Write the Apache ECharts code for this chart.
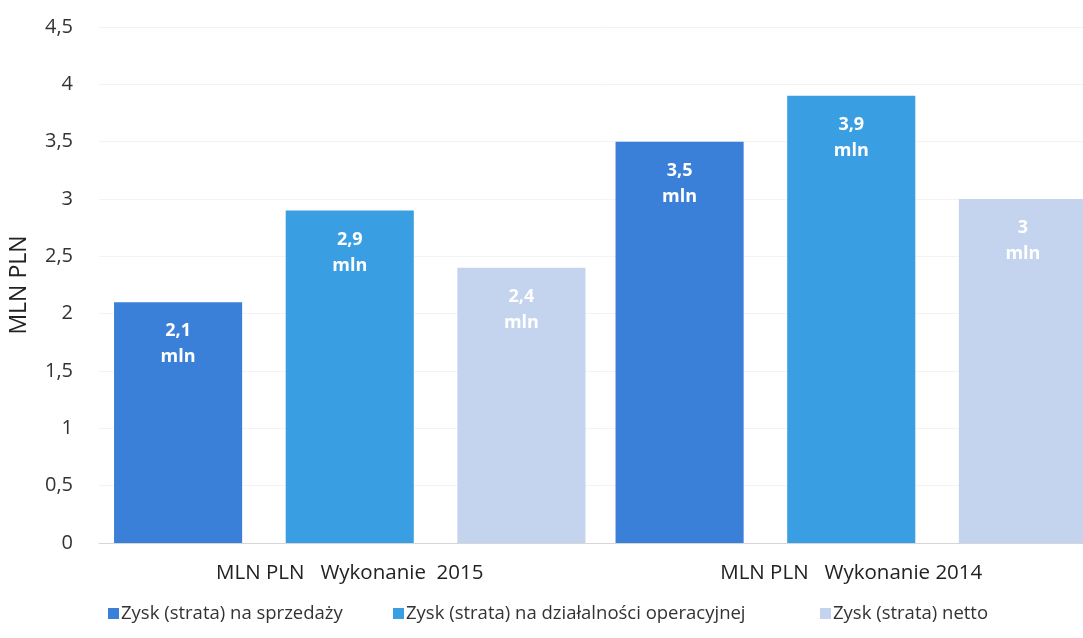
<!DOCTYPE html>
<html>
<head>
<meta charset="utf-8">
<script src="https://cdn.jsdelivr.net/npm/echarts@6/dist/echarts.min.js"></script>
<style>
  html, body { margin: 0; padding: 0; background: #fff; overflow: hidden; }
  /* szerszy niz okno: ostatni slupek w oryginale jest uciety */
  #chart { width: 1120px; height: 638px; }
</style>
</head>
<body>
<div id="chart"></div>
<script>
// dane z wykresu
var categories = ['MLN PLN   Wykonanie  2015', 'MLN PLN   Wykonanie 2014'];
var seriesNames = ['Zysk (strata) na sprzedaży', 'Zysk (strata) na działalności operacyjnej', 'Zysk (strata) netto'];
var sprzedaz = [2.1, 3.5];
var operacyjna = [2.9, 3.9];
var netto = [2.4, 3];
var colors = ['#3a7fd8', '#3a9fe2', '#c4d4ef'];

function fmt(v) {
  return String(v).replace('.', ',');
}

var chart = echarts.init(document.getElementById('chart'));

var label = {
  show: true,
  position: 'insideTop',
  distance: 16,
  color: '#fff',
  fontFamily: 'Open Sans',
  fontWeight: 'bold',
  fontSize: 18,
  lineHeight: 26,
  formatter: function (p) { return fmt(p.value) + '\nmln'; }
};

// legenda rozbita na trzy, bo odstepy w oryginale sa nierowne
var legendLeft = [103, 388, 815];
var legends = seriesNames.map(function (n, i) {
  return {
    bottom: 10,
    left: legendLeft[i],
    itemWidth: 11,
    itemHeight: 11,
    icon: 'rect',
    textStyle: { fontFamily: 'Open Sans', fontSize: 18.5, color: '#333', padding: [0, 0, 0, -3] },
    data: [n]
  };
});

var option = {
  animation: false,
  textStyle: { fontFamily: 'Open Sans' },
  grid: { left: 98, right: 18, top: 27, bottom: 95, containLabel: false },
  legend: legends,
  xAxis: {
    type: 'category',
    data: categories,
    axisTick: { show: false },
    axisLine: { lineStyle: { color: '#d6d6d6', width: 1 } },
    axisLabel: { color: '#222', fontSize: 20.5, margin: 20 }
  },
  yAxis: {
    type: 'value',
    min: 0,
    max: 4.5,
    interval: 0.5,
    name: 'MLN PLN',
    nameLocation: 'middle',
    nameGap: 68,
    nameRotate: 90,
    nameTextStyle: { color: '#222', fontSize: 23 },
    axisLine: { show: false },
    axisTick: { show: false },
    axisLabel: { color: '#333', fontSize: 20, margin: 26, formatter: function (v) { return fmt(v); } },
    splitLine: { lineStyle: { color: '#f3f3f3', width: 1 } }
  },
  series: [
    { name: seriesNames[0], type: 'bar', data: sprzedaz, itemStyle: { color: colors[0] }, label: label, barGap: '34%', barCategoryGap: '6%' },
    { name: seriesNames[1], type: 'bar', data: operacyjna, itemStyle: { color: colors[1] }, label: label },
    { name: seriesNames[2], type: 'bar', data: netto, itemStyle: { color: colors[2] }, label: label }
  ]
};

chart.setOption(option);
</script>
</body>
</html>
